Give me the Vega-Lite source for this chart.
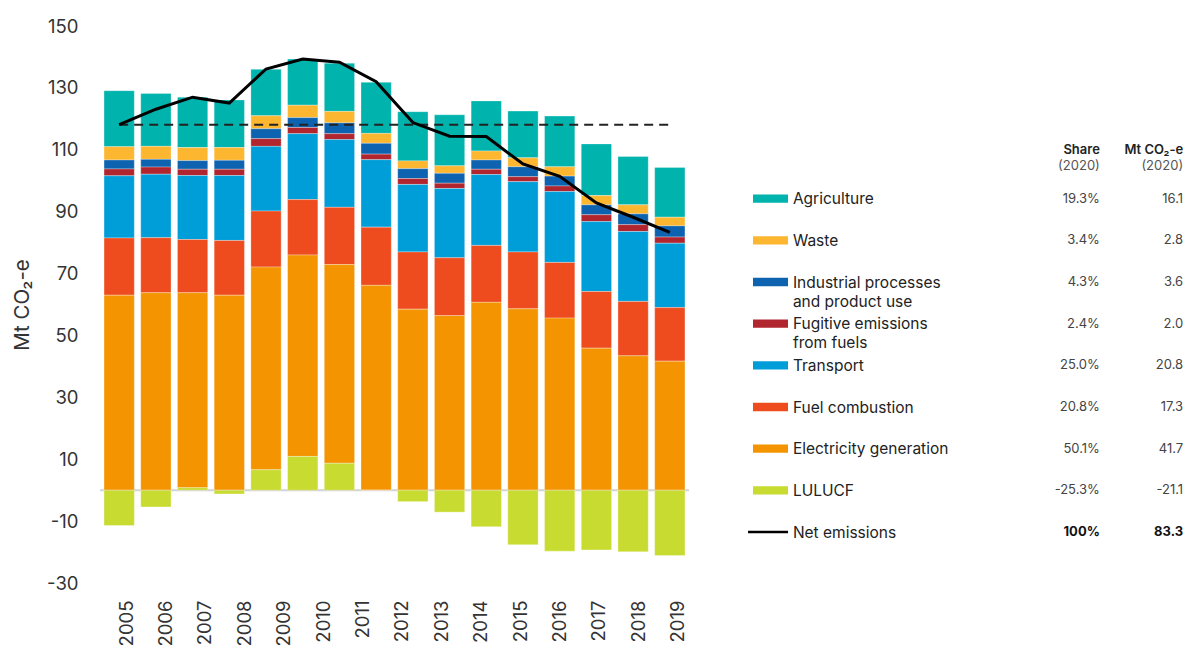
{
  "$schema": "https://vega.github.io/schema/vega-lite/v6.json",
  "padding": {"left": 12, "top": 17, "right": 0, "bottom": 0},
  "background": "white",
  "config": {"font": "Inter", "view": {"stroke": null}},
  "datasets": {
    "sectors": [
      {"year": 2005, "category": "Agriculture", "value": 18.1},
      {"year": 2005, "category": "Waste", "value": 4.3},
      {"year": 2005, "category": "Industrial processes and product use", "value": 2.9},
      {"year": 2005, "category": "Fugitive emissions from fuels", "value": 2.2},
      {"year": 2005, "category": "Transport", "value": 20.1},
      {"year": 2005, "category": "Fuel combustion", "value": 18.5},
      {"year": 2005, "category": "Electricity generation", "value": 63.0},
      {"year": 2005, "category": "LULUCF", "value": -11.4},
      {"year": 2006, "category": "Agriculture", "value": 17.1},
      {"year": 2006, "category": "Waste", "value": 4.2},
      {"year": 2006, "category": "Industrial processes and product use", "value": 2.5},
      {"year": 2006, "category": "Fugitive emissions from fuels", "value": 2.3},
      {"year": 2006, "category": "Transport", "value": 20.5},
      {"year": 2006, "category": "Fuel combustion", "value": 17.8},
      {"year": 2006, "category": "Electricity generation", "value": 63.8},
      {"year": 2006, "category": "LULUCF", "value": -5.4},
      {"year": 2007, "category": "Agriculture", "value": 16.3},
      {"year": 2007, "category": "Waste", "value": 4.2},
      {"year": 2007, "category": "Industrial processes and product use", "value": 2.8},
      {"year": 2007, "category": "Fugitive emissions from fuels", "value": 2.0},
      {"year": 2007, "category": "Transport", "value": 20.7},
      {"year": 2007, "category": "Fuel combustion", "value": 17.2},
      {"year": 2007, "category": "Electricity generation", "value": 63.0},
      {"year": 2007, "category": "LULUCF", "value": 0.8},
      {"year": 2008, "category": "Agriculture", "value": 15.4},
      {"year": 2008, "category": "Waste", "value": 4.1},
      {"year": 2008, "category": "Industrial processes and product use", "value": 2.9},
      {"year": 2008, "category": "Fugitive emissions from fuels", "value": 2.0},
      {"year": 2008, "category": "Transport", "value": 21.0},
      {"year": 2008, "category": "Fuel combustion", "value": 17.7},
      {"year": 2008, "category": "Electricity generation", "value": 63.0},
      {"year": 2008, "category": "LULUCF", "value": -1.2},
      {"year": 2009, "category": "Agriculture", "value": 15.0},
      {"year": 2009, "category": "Waste", "value": 4.2},
      {"year": 2009, "category": "Industrial processes and product use", "value": 3.2},
      {"year": 2009, "category": "Fugitive emissions from fuels", "value": 2.5},
      {"year": 2009, "category": "Transport", "value": 20.9},
      {"year": 2009, "category": "Fuel combustion", "value": 18.1},
      {"year": 2009, "category": "Electricity generation", "value": 65.5},
      {"year": 2009, "category": "LULUCF", "value": 6.6},
      {"year": 2010, "category": "Agriculture", "value": 14.9},
      {"year": 2010, "category": "Waste", "value": 4.0},
      {"year": 2010, "category": "Industrial processes and product use", "value": 3.2},
      {"year": 2010, "category": "Fugitive emissions from fuels", "value": 2.0},
      {"year": 2010, "category": "Transport", "value": 21.3},
      {"year": 2010, "category": "Fuel combustion", "value": 17.9},
      {"year": 2010, "category": "Electricity generation", "value": 65.1},
      {"year": 2010, "category": "LULUCF", "value": 10.9},
      {"year": 2011, "category": "Agriculture", "value": 15.6},
      {"year": 2011, "category": "Waste", "value": 3.7},
      {"year": 2011, "category": "Industrial processes and product use", "value": 3.5},
      {"year": 2011, "category": "Fugitive emissions from fuels", "value": 1.9},
      {"year": 2011, "category": "Transport", "value": 21.9},
      {"year": 2011, "category": "Fuel combustion", "value": 18.5},
      {"year": 2011, "category": "Electricity generation", "value": 64.2},
      {"year": 2011, "category": "LULUCF", "value": 8.7},
      {"year": 2012, "category": "Agriculture", "value": 16.5},
      {"year": 2012, "category": "Waste", "value": 3.2},
      {"year": 2012, "category": "Industrial processes and product use", "value": 3.5},
      {"year": 2012, "category": "Fugitive emissions from fuels", "value": 1.8},
      {"year": 2012, "category": "Transport", "value": 21.8},
      {"year": 2012, "category": "Fuel combustion", "value": 18.8},
      {"year": 2012, "category": "Electricity generation", "value": 66.2},
      {"year": 2012, "category": "LULUCF", "value": 0.0},
      {"year": 2013, "category": "Agriculture", "value": 15.9},
      {"year": 2013, "category": "Waste", "value": 2.5},
      {"year": 2013, "category": "Industrial processes and product use", "value": 3.2},
      {"year": 2013, "category": "Fugitive emissions from fuels", "value": 1.9},
      {"year": 2013, "category": "Transport", "value": 21.8},
      {"year": 2013, "category": "Fuel combustion", "value": 18.5},
      {"year": 2013, "category": "Electricity generation", "value": 58.5},
      {"year": 2013, "category": "LULUCF", "value": -3.7},
      {"year": 2014, "category": "Agriculture", "value": 16.5},
      {"year": 2014, "category": "Waste", "value": 2.4},
      {"year": 2014, "category": "Industrial processes and product use", "value": 3.2},
      {"year": 2014, "category": "Fugitive emissions from fuels", "value": 1.7},
      {"year": 2014, "category": "Transport", "value": 22.4},
      {"year": 2014, "category": "Fuel combustion", "value": 18.7},
      {"year": 2014, "category": "Electricity generation", "value": 56.4},
      {"year": 2014, "category": "LULUCF", "value": -7.1},
      {"year": 2015, "category": "Agriculture", "value": 16.2},
      {"year": 2015, "category": "Waste", "value": 2.9},
      {"year": 2015, "category": "Industrial processes and product use", "value": 3.0},
      {"year": 2015, "category": "Fugitive emissions from fuels", "value": 1.7},
      {"year": 2015, "category": "Transport", "value": 22.9},
      {"year": 2015, "category": "Fuel combustion", "value": 18.4},
      {"year": 2015, "category": "Electricity generation", "value": 60.7},
      {"year": 2015, "category": "LULUCF", "value": -11.8},
      {"year": 2016, "category": "Agriculture", "value": 15.1},
      {"year": 2016, "category": "Waste", "value": 2.9},
      {"year": 2016, "category": "Industrial processes and product use", "value": 3.2},
      {"year": 2016, "category": "Fugitive emissions from fuels", "value": 1.6},
      {"year": 2016, "category": "Transport", "value": 22.7},
      {"year": 2016, "category": "Fuel combustion", "value": 18.4},
      {"year": 2016, "category": "Electricity generation", "value": 58.6},
      {"year": 2016, "category": "LULUCF", "value": -17.6},
      {"year": 2017, "category": "Agriculture", "value": 16.4},
      {"year": 2017, "category": "Waste", "value": 3.0},
      {"year": 2017, "category": "Industrial processes and product use", "value": 3.2},
      {"year": 2017, "category": "Fugitive emissions from fuels", "value": 1.8},
      {"year": 2017, "category": "Transport", "value": 22.9},
      {"year": 2017, "category": "Fuel combustion", "value": 18.0},
      {"year": 2017, "category": "Electricity generation", "value": 55.6},
      {"year": 2017, "category": "LULUCF", "value": -19.7},
      {"year": 2018, "category": "Agriculture", "value": 16.7},
      {"year": 2018, "category": "Waste", "value": 3.0},
      {"year": 2018, "category": "Industrial processes and product use", "value": 3.2},
      {"year": 2018, "category": "Fugitive emissions from fuels", "value": 2.2},
      {"year": 2018, "category": "Transport", "value": 22.6},
      {"year": 2018, "category": "Fuel combustion", "value": 18.3},
      {"year": 2018, "category": "Electricity generation", "value": 45.9},
      {"year": 2018, "category": "LULUCF", "value": -19.3},
      {"year": 2019, "category": "Agriculture", "value": 15.6},
      {"year": 2019, "category": "Waste", "value": 2.9},
      {"year": 2019, "category": "Industrial processes and product use", "value": 3.5},
      {"year": 2019, "category": "Fugitive emissions from fuels", "value": 2.2},
      {"year": 2019, "category": "Transport", "value": 22.6},
      {"year": 2019, "category": "Fuel combustion", "value": 17.6},
      {"year": 2019, "category": "Electricity generation", "value": 43.4},
      {"year": 2019, "category": "LULUCF", "value": -19.9},
      {"year": 2020, "category": "Agriculture", "value": 16.1},
      {"year": 2020, "category": "Waste", "value": 2.8},
      {"year": 2020, "category": "Industrial processes and product use", "value": 3.6},
      {"year": 2020, "category": "Fugitive emissions from fuels", "value": 2.0},
      {"year": 2020, "category": "Transport", "value": 20.8},
      {"year": 2020, "category": "Fuel combustion", "value": 17.3},
      {"year": 2020, "category": "Electricity generation", "value": 41.7},
      {"year": 2020, "category": "LULUCF", "value": -21.1}
    ],
    "net": [
      {"year": 2005, "value": 118.1},
      {"year": 2006, "value": 123.1},
      {"year": 2007, "value": 127.0},
      {"year": 2008, "value": 125.1},
      {"year": 2009, "value": 136.1},
      {"year": 2010, "value": 139.3},
      {"year": 2011, "value": 138.3},
      {"year": 2012, "value": 132.0},
      {"year": 2013, "value": 118.8},
      {"year": 2014, "value": 114.4},
      {"year": 2015, "value": 114.3},
      {"year": 2016, "value": 105.4},
      {"year": 2017, "value": 101.4},
      {"year": 2018, "value": 92.8},
      {"year": 2019, "value": 88.2},
      {"year": 2020, "value": 83.3}
    ],
    "baseline": [
      {"year": 2005, "value": 118.1},
      {"year": 2020, "value": 118.1}
    ],
    "labels": [
      {"label": "2005"}, {"label": "2006"}, {"label": "2007"}, {"label": "2008"},
      {"label": "2009"}, {"label": "2010"}, {"label": "2011"}, {"label": "2012"},
      {"label": "2013"}, {"label": "2014"}, {"label": "2015"}, {"label": "2016"},
      {"label": "2017"}, {"label": "2018"}, {"label": "2019"}
    ],
    "table": [
      {"row": 1, "category": "Agriculture", "label": "Agriculture", "share": "19.3%", "mt": "16.1"},
      {"row": 2, "category": "Waste", "label": "Waste", "share": "3.4%", "mt": "2.8"},
      {"row": 3, "category": "Industrial processes and product use", "label": "Industrial processes\nand product use", "share": "4.3%", "mt": "3.6"},
      {"row": 4, "category": "Fugitive emissions from fuels", "label": "Fugitive emissions\nfrom fuels", "share": "2.4%", "mt": "2.0"},
      {"row": 5, "category": "Transport", "label": "Transport", "share": "25.0%", "mt": "20.8"},
      {"row": 6, "category": "Fuel combustion", "label": "Fuel combustion", "share": "20.8%", "mt": "17.3"},
      {"row": 7, "category": "Electricity generation", "label": "Electricity generation", "share": "50.1%", "mt": "41.7"},
      {"row": 8, "category": "LULUCF", "label": "LULUCF", "share": "-25.3%", "mt": "-21.1"},
      {"row": 9, "category": "Net emissions", "label": "Net emissions", "share": "100%", "mt": "83.3"}
    ],
    "header": [
      {"category": "header", "col": "share", "top": "Share", "sub": "(2020)"},
      {"category": "header", "col": "mt", "top": "Mt CO₂-e", "sub": "(2020)"}
    ]
  },
  "spacing": 58,
  "hconcat": [
    {
      "width": 589,
      "height": 557,
      "layer": [
        {
          "layer": [
            {
              "data": {"values": [{"value": 0}]},
              "mark": {"type": "rule", "color": "#d3d3d3", "strokeWidth": 2},
              "encoding": {
                "y": {"field": "value", "type": "quantitative", "scale": {"domain": [-30, 150], "nice": false, "zero": false},
                  "axis": {"title": "Mt CO₂-e", "values": [-30, -10, 10, 30, 50, 70, 90, 110, 130, 150], "grid": false, "domain": false, "ticks": false, "labelFontSize": 18.5, "labelColor": "#333", "labelPadding": 22, "labelFlush": false, "labelExpr": "toString(datum.value)", "titleFontSize": 20.5, "titleFontWeight": "normal", "titleColor": "#333", "titlePadding": 14}}
              }
            },
            {
              "data": {"name": "sectors"},
              "transform": [
                {"lookup": "category", "from": {"data": {"name": "table"}, "key": "category", "fields": ["row"]}}
              ],
              "mark": {"type": "bar", "stroke": "#ffffff", "strokeWidth": 0.6, "strokeOpacity": 0.5},
              "encoding": {
                "x": {"field": "year", "type": "ordinal", "scale": {"paddingInner": 0.175, "paddingOuter": 0.11}, "axis": null},
                "y": {"field": "value", "type": "quantitative", "scale": {"domain": [-30, 150], "nice": false, "zero": false},
                  "axis": {"title": "Mt CO₂-e", "values": [-30, -10, 10, 30, 50, 70, 90, 110, 130, 150], "grid": false, "domain": false, "ticks": false, "labelFontSize": 18.5, "labelColor": "#333", "labelPadding": 22, "labelFlush": false, "labelExpr": "toString(datum.value)", "titleFontSize": 20.5, "titleFontWeight": "normal", "titleColor": "#333", "titlePadding": 14}},
                "color": {
                  "field": "category", "type": "nominal",
                  "scale": {
                    "domain": ["Agriculture", "Waste", "Industrial processes and product use", "Fugitive emissions from fuels", "Transport", "Fuel combustion", "Electricity generation", "LULUCF"],
                    "range": ["#00b3ad", "#fdb62f", "#0d63af", "#b0252e", "#009ed9", "#ee4c1e", "#f39400", "#c8db31"]
                  },
                  "legend": null
                },
                "order": {"field": "row", "type": "quantitative", "sort": "descending"}
              }
            },
            {
              "data": {"name": "baseline"},
              "mark": {"type": "line", "color": "#222222", "strokeWidth": 2, "strokeDash": [9, 6]},
              "encoding": {
                "x": {"field": "year", "type": "ordinal", "axis": null},
                "y": {"field": "value", "type": "quantitative"}
              }
            },
            {
              "data": {"name": "net"},
              "mark": {"type": "line", "color": "#000000", "strokeWidth": 3},
              "encoding": {
                "x": {"field": "year", "type": "ordinal", "axis": null},
                "y": {"field": "value", "type": "quantitative"}
              }
            }
          ]
        },
        {
          "data": {"name": "labels"},
          "mark": {"type": "point", "opacity": 0},
          "encoding": {
            "x": {"field": "label", "type": "ordinal", "scale": {"type": "point", "padding": 0.475, "align": 0.7},
              "axis": {"orient": "bottom", "title": null, "domain": false, "ticks": false, "labelAngle": -90, "labelFontSize": 18.5, "labelColor": "#333", "labelPadding": 17, "labelOverlap": false}}
          }
        }
      ],
      "resolve": {"scale": {"x": "independent"}, "axis": {"x": "independent"}}
    },
    {
      "width": 436,
      "height": 557,
      "data": {"name": "table"},
      "encoding": {
        "y": {"field": "category", "type": "ordinal", "axis": null,
          "scale": {"type": "point", "domain": ["header", "Agriculture", "Waste", "Industrial processes and product use", "Fugitive emissions from fuels", "Transport", "Fuel combustion", "Electricity generation", "LULUCF", "Net emissions"], "padding": 0, "range": [131, 506]}}
      },
      "layer": [
        {
          "data": {"name": "header"},
          "transform": [{"filter": "datum.col === 'share'"}],
          "mark": {"type": "text", "align": "right", "baseline": "middle", "dy": -7, "fontSize": 13, "fontWeight": 600, "color": "#222"},
          "encoding": {
            "x": {"datum": 80.7, "type": "quantitative", "scale": {"domain": [0, 100]}, "axis": null},
            "text": {"field": "top"}
          }
        },
        {
          "data": {"name": "header"},
          "transform": [{"filter": "datum.col === 'share'"}],
          "mark": {"type": "text", "align": "right", "baseline": "middle", "dy": 9, "fontSize": 13, "color": "#555"},
          "encoding": {
            "x": {"datum": 80.7, "type": "quantitative", "scale": {"domain": [0, 100]}, "axis": null},
            "text": {"field": "sub"}
          }
        },
        {
          "data": {"name": "header"},
          "transform": [{"filter": "datum.col === 'mt'"}],
          "mark": {"type": "text", "align": "right", "baseline": "middle", "dy": -7, "fontSize": 13, "fontWeight": 600, "color": "#222"},
          "encoding": {
            "x": {"datum": 99.8, "type": "quantitative", "scale": {"domain": [0, 100]}, "axis": null},
            "text": {"field": "top"}
          }
        },
        {
          "data": {"name": "header"},
          "transform": [{"filter": "datum.col === 'mt'"}],
          "mark": {"type": "text", "align": "right", "baseline": "middle", "dy": 9, "fontSize": 13, "color": "#555"},
          "encoding": {
            "x": {"datum": 99.8, "type": "quantitative", "scale": {"domain": [0, 100]}, "axis": null},
            "text": {"field": "sub"}
          }
        },
        {
          "transform": [{"filter": "datum.category !== 'Net emissions'"}],
          "mark": {"type": "point", "filled": true, "opacity": 1, "strokeWidth": 0, "size": 1225, "shape": "M-1,-0.24H1V0.24H-1Z"},
          "encoding": {
            "x": {"datum": 5.16, "type": "quantitative", "scale": {"domain": [0, 100]}, "axis": null},
            "color": {"field": "category", "type": "nominal",
              "scale": {"domain": ["Agriculture", "Waste", "Industrial processes and product use", "Fugitive emissions from fuels", "Transport", "Fuel combustion", "Electricity generation", "LULUCF"],
                "range": ["#00b3ad", "#fdb62f", "#0d63af", "#b0252e", "#009ed9", "#ee4c1e", "#f39400", "#c8db31"]}, "legend": null}
          }
        },
        {
          "transform": [{"filter": "datum.category === 'Net emissions'"}],
          "mark": {"type": "point", "filled": true, "opacity": 1, "strokeWidth": 0, "size": 1600, "shape": "M-1,-0.065H1V0.065H-1Z", "color": "#000000"},
          "encoding": {
            "x": {"datum": 4.6, "type": "quantitative", "scale": {"domain": [0, 100]}, "axis": null}
          }
        },
        {
          "mark": {"type": "text", "align": "left", "baseline": "alphabetic", "dy": 5.6, "fontSize": 15.5, "color": "#222", "lineBreak": "\n", "lineHeight": 19},
          "encoding": {
            "x": {"datum": 10.3, "type": "quantitative", "scale": {"domain": [0, 100]}, "axis": null},
            "text": {"field": "label"}
          }
        },
        {
          "transform": [{"filter": "datum.category !== 'Net emissions'"}],
          "mark": {"type": "text", "align": "right", "baseline": "middle", "fontSize": 13, "color": "#444"},
          "encoding": {
            "x": {"datum": 80.7, "type": "quantitative", "scale": {"domain": [0, 100]}, "axis": null},
            "text": {"field": "share"}
          }
        },
        {
          "transform": [{"filter": "datum.category !== 'Net emissions'"}],
          "mark": {"type": "text", "align": "right", "baseline": "middle", "fontSize": 13, "color": "#444"},
          "encoding": {
            "x": {"datum": 99.8, "type": "quantitative", "scale": {"domain": [0, 100]}, "axis": null},
            "text": {"field": "mt"}
          }
        },
        {
          "transform": [{"filter": "datum.category === 'Net emissions'"}],
          "mark": {"type": "text", "align": "right", "baseline": "middle", "fontSize": 13, "fontWeight": "bold", "color": "#111"},
          "encoding": {
            "x": {"datum": 80.7, "type": "quantitative", "scale": {"domain": [0, 100]}, "axis": null},
            "text": {"field": "share"}
          }
        },
        {
          "transform": [{"filter": "datum.category === 'Net emissions'"}],
          "mark": {"type": "text", "align": "right", "baseline": "middle", "fontSize": 13, "fontWeight": "bold", "color": "#111"},
          "encoding": {
            "x": {"datum": 99.8, "type": "quantitative", "scale": {"domain": [0, 100]}, "axis": null},
            "text": {"field": "mt"}
          }
        }
      ]
    }
  ],
  "resolve": {"scale": {"color": "independent"}}
}
